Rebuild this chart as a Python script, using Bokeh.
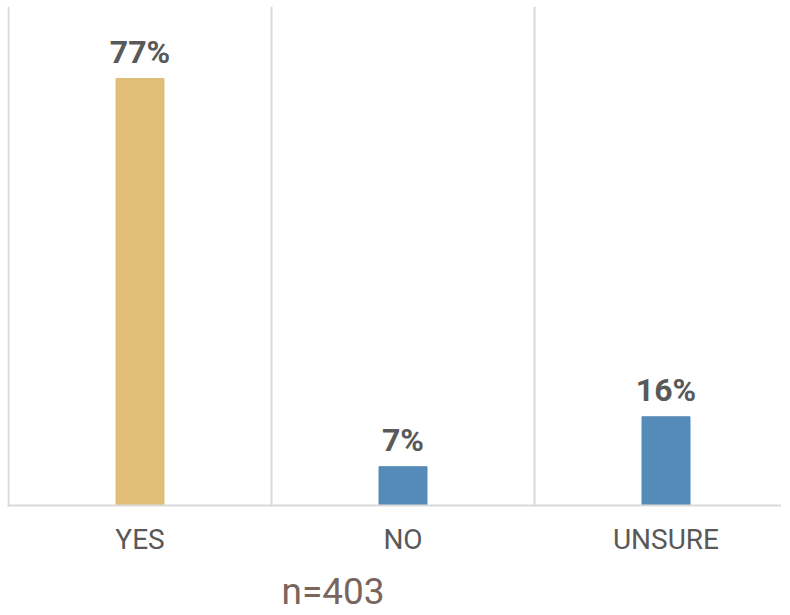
from bokeh.plotting import figure
from bokeh.models import Range1d, FixedTicker, ColumnDataSource, LabelSet, Title, Span
from bokeh.core.properties import value
from bokeh.embed import file_html
from bokeh.resources import INLINE

categories = ["YES", "NO", "UNSURE"]
values = [77, 7, 16]
colors = ["#E0BE78", "#558BB8", "#558BB8"]
value_labels = ["77%", "7%", "16%"]
note = "n=403"

x_pos = [i + 0.5 for i in range(len(categories))]
src = ColumnDataSource(dict(x=x_pos, top=values, color=colors, label=value_labels))

FW, FH = 774, 499
p = figure(frame_width=FW, frame_height=FH, output_backend="svg", toolbar_location=None,
           x_range=Range1d(-1 / 263, (FW - 1) / 263), y_range=Range1d(0, 90),
           min_border_left=7, min_border_right=0, min_border_top=6, min_border_bottom=0)
p.outline_line_color = None
p.background_fill_color = "white"
p.border_fill_color = "white"

p.vbar(x="x", top="top", width=48 / 263, color="color", source=src)

labels = LabelSet(x="x", y="top", text="label", source=src, text_align="center",
                  text_baseline="alphabetic", y_offset=16,
                  text_font=value("Roboto"), text_font_size=value("32px"),
                  text_font_style="bold", text_color="#595959")
p.add_layout(labels)

p.yaxis.visible = False
p.ygrid.visible = False
p.xgrid.ticker = FixedTicker(ticks=[0, 1, 2, 3])
p.xgrid.grid_line_color = "#D9D9D9"
p.xgrid.grid_line_width = 2
p.xgrid.grid_line_alpha = 1

ax = p.xaxis[0]
ax.ticker = FixedTicker(ticks=x_pos)
ax.major_label_overrides = {x: c for x, c in zip(x_pos, categories)}
ax.major_tick_line_color = None
ax.minor_tick_line_color = None
ax.axis_line_color = "#D9D9D9"
ax.axis_line_width = 2
ax.major_label_text_font = "Roboto"
ax.major_label_text_font_size = "28px"
ax.major_label_text_color = "#595959"
ax.major_label_standoff = 11

t = Title(text=note, align="left", offset=274, text_font="Roboto",
          text_font_size="37px", text_font_style="normal", text_color="#7a655c",
          standoff=18)
p.add_layout(t, "below")

open("out.html", "w").write(file_html(p, INLINE))
